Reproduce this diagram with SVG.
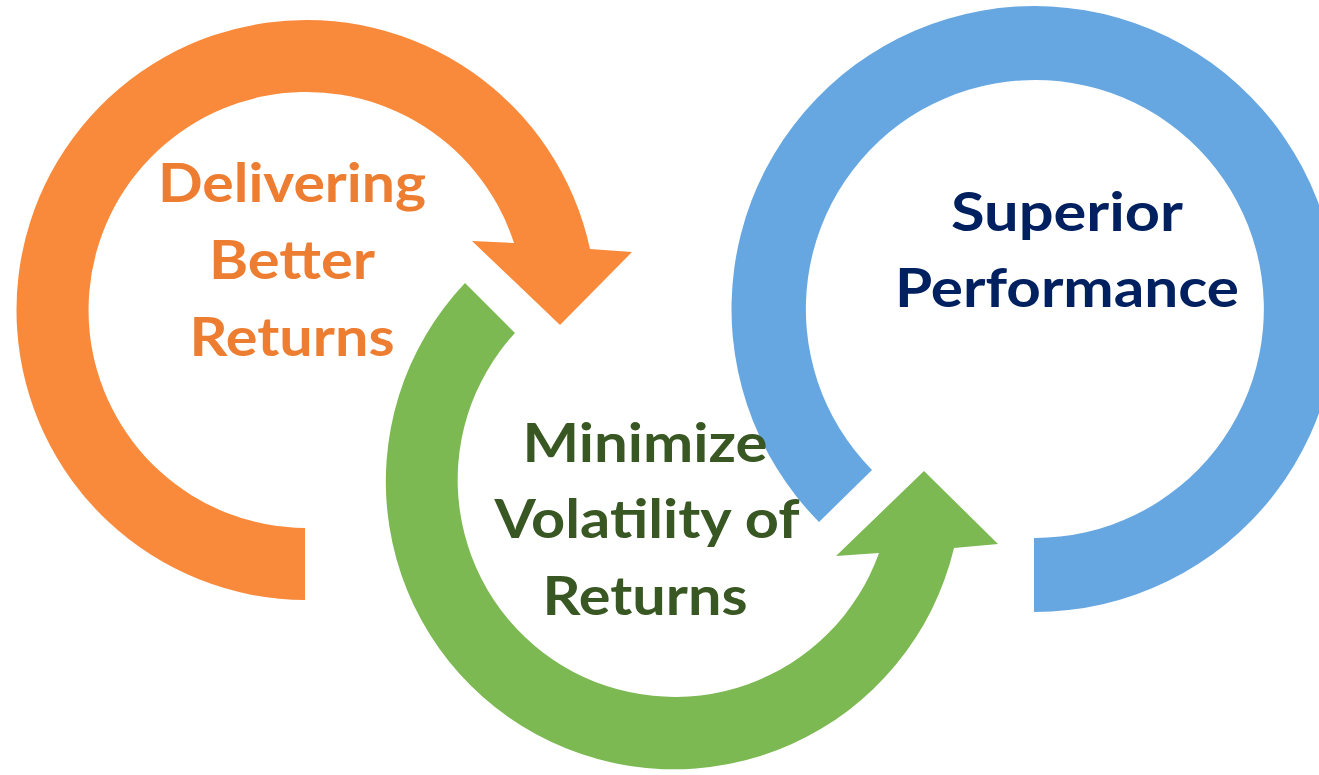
<svg xmlns="http://www.w3.org/2000/svg" width="1319" height="775" viewBox="0 0 1319 775">
  <style>
    .lbl { font-family: Lato, "Open Sans", "Liberation Sans", sans-serif; font-weight: 700; font-size: 54px; text-anchor: middle; }
    .orange-shape { fill: #FA8A3B; }
    .green-shape { fill: #7CB952; }
    .blue-shape { fill: #67A7E1; }
    .orange-text { fill: #ED7D31; }
    .green-text { fill: #385723; }
    .blue-text { fill: #002060; }
  </style>
  <rect width="1319" height="775" fill="#FFFFFF"/>
  <g id="node-delivering">
    <path class="orange-shape" d="M305,600 A290,290 0 1 1 590,249 L632,252 L560,325 L472,241 L514,243 A218,218 0 1 0 305,528 Z"/>
    <text class="lbl orange-text" x="292" y="202" textLength="268" lengthAdjust="spacingAndGlyphs">Delivering</text>
    <text class="lbl orange-text" x="292" y="279" textLength="166" lengthAdjust="spacingAndGlyphs">Better</text>
    <text class="lbl orange-text" x="292" y="356" textLength="205" lengthAdjust="spacingAndGlyphs">Returns</text>
  </g>
  <g id="node-superior">
    <path class="blue-shape" d="M819,522 A303,303 0 1 1 1034,612 L1034,538 A229,229 0 1 0 872,470 Z"/>
    <text class="lbl blue-text" x="1067" y="231" textLength="232" lengthAdjust="spacingAndGlyphs">Superior</text>
    <text class="lbl blue-text" x="1067" y="307" textLength="344" lengthAdjust="spacingAndGlyphs">Performance</text>
  </g>
  <g id="node-minimize">
    <path class="green-shape" d="M465,283 A288,288 0 1 0 954,548 L998,544 L924,471 L836,556 L879,553 A217,217 0 1 1 515,333 Z"/>
    <text class="lbl green-text" x="645" y="462" textLength="245" lengthAdjust="spacingAndGlyphs">Minimize</text>
    <text class="lbl green-text" x="647" y="538" textLength="305" lengthAdjust="spacingAndGlyphs">Volatility of</text>
    <text class="lbl green-text" x="645" y="615" textLength="205" lengthAdjust="spacingAndGlyphs">Returns</text>
  </g>
  <g id="connectors"></g>
</svg>
